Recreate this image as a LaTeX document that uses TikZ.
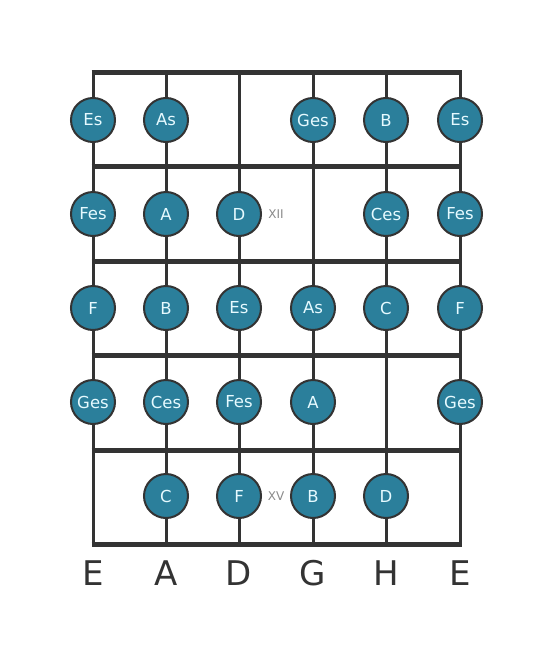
\documentclass[tikz,border=0pt]{standalone}
\usepackage{fontspec}
\setmainfont{DejaVu Sans}
\definecolor{linec}{HTML}{333333}
\definecolor{notefill}{HTML}{2B7F9B}
\definecolor{notetext}{HTML}{E6FAFF}
\definecolor{markc}{HTML}{8A8A8A}
\tikzset{
  fret/.style={line width=5pt, draw=linec},
  string/.style={line width=3pt, draw=linec},
  note/.style={circle, minimum size=44pt, inner sep=0pt, fill=notefill, draw=linec, line width=2pt, text=notetext, font=\fontsize{16.5pt}{18pt}\selectfont},
  posmark/.style={text=markc, font=\fontsize{12pt}{14pt}\selectfont, inner sep=0pt},
  strlabel/.style={text=linec, font=\fontsize{34pt}{38pt}\selectfont, inner sep=0pt}
}
\begin{document}
\begin{tikzpicture}[x=1pt,y=1pt]
\useasboundingbox[fill=white] (0,0) rectangle (553,-656);
% string positions
\foreach \i/\x in {1/93,2/166,3/239,4/313,5/386,6/460}{
  \coordinate (st\i) at (\x,-72);
  \coordinate (sb\i) at (\x,-544);
}
\foreach \i in {1,...,6}{ \draw[string] (st\i) -- (sb\i); }
% frets
\foreach \j/\y in {0/72,1/166,2/261,3/355,4/450,5/544}{
  \coordinate (fl\j) at (91.5,-\y);
  \coordinate (fr\j) at (461.5,-\y);
  \draw[fret] (fl\j) -- (fr\j);
}
% notes row 1
\node[note] (n11) at (93,-120) {Es};
\node[note] (n12) at (166,-120) {As};
\node[note] (n14) at (313,-120) {Ges};
\node[note] (n15) at (386,-120) {B};
\node[note] (n16) at (460,-120) {Es};
% row 2
\node[note] (n21) at (93,-214) {Fes};
\node[note] (n22) at (166,-214) {A};
\node[note] (n23) at (239,-214) {D};
\node[note] (n25) at (386,-214) {Ces};
\node[note] (n26) at (460,-214) {Fes};
\node[posmark] (m12) at (276,-214) {XII};
% row 3
\node[note] (n31) at (93,-308) {F};
\node[note] (n32) at (166,-308) {B};
\node[note] (n33) at (239,-308) {Es};
\node[note] (n34) at (313,-308) {As};
\node[note] (n35) at (386,-308) {C};
\node[note] (n36) at (460,-308) {F};
% row 4
\node[note] (n41) at (93,-402) {Ges};
\node[note] (n42) at (166,-402) {Ces};
\node[note] (n43) at (239,-402) {Fes};
\node[note] (n44) at (313,-402) {A};
\node[note] (n46) at (460,-402) {Ges};
% row 5
\node[note] (n52) at (166,-496) {C};
\node[note] (n53) at (239,-496) {F};
\node[note] (n54) at (313,-496) {B};
\node[note] (n55) at (386,-496) {D};
\node[posmark] (m15) at (276,-496) {XV};
% string names
\node[strlabel] (l1) at (93,-573) {E};
\node[strlabel] (l2) at (166,-573) {A};
\node[strlabel] (l3) at (239,-573) {D};
\node[strlabel] (l4) at (313,-573) {G};
\node[strlabel] (l5) at (386,-573) {H};
\node[strlabel] (l6) at (460,-573) {E};
\end{tikzpicture}
\end{document}
